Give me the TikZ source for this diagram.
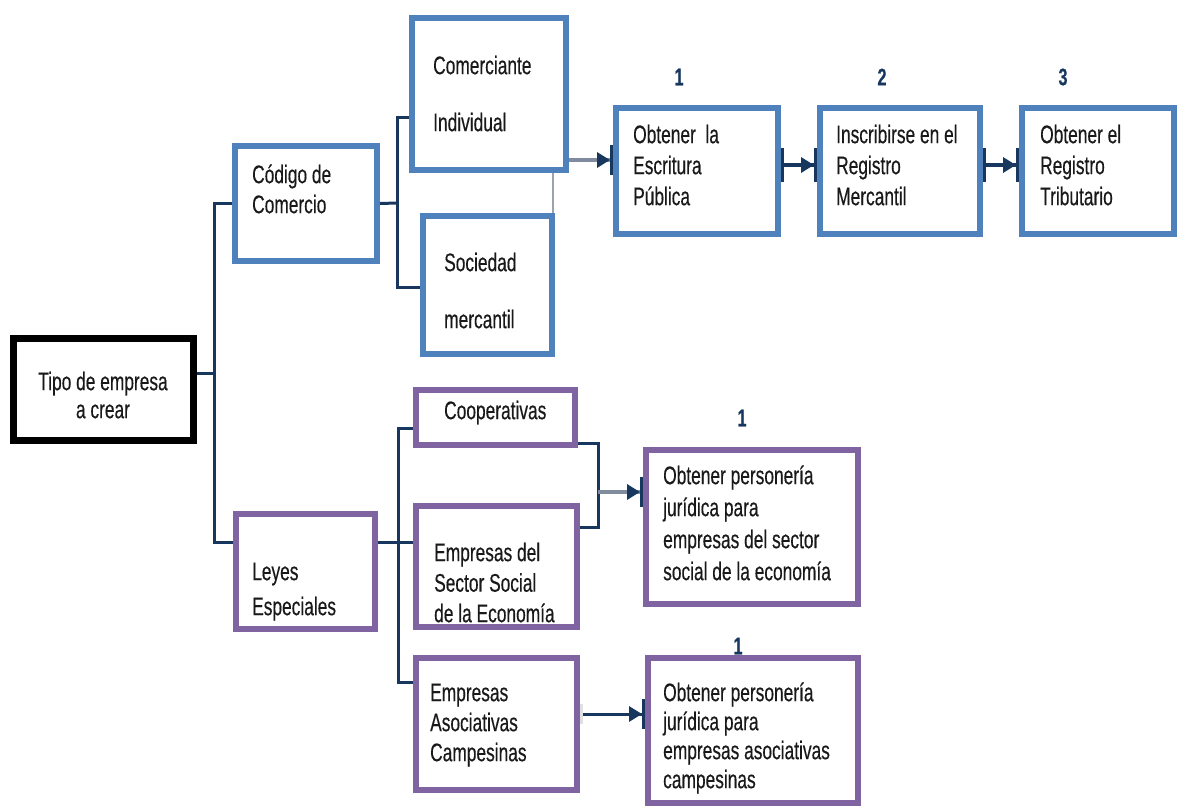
\documentclass[tikz,border=0pt]{standalone}
\usepackage{fontspec}
\setmainfont{Liberation Sans}[FakeStretch=0.68, FakeBold=0.3]
\usetikzlibrary{arrows.meta}

\definecolor{boxblue}{RGB}{79,129,189}
\definecolor{boxpurple}{RGB}{128,100,162}
\definecolor{navy}{RGB}{23,55,94}
\definecolor{shaftgray}{RGB}{128,140,158}
\definecolor{inkgray}{RGB}{25,25,25}

% first-line strut: fixes the top of every text block 26pt above its first baseline
\newcommand\fstrut{\rule{0pt}{26pt}}
\newcommand\tsize[1]{\fontsize{25.5}{#1}\selectfont}

\tikzset{
  box/.style={draw, rectangle, inner sep=0pt, fill=white},
  bluebox/.style={box, draw=boxblue, line width=6pt},
  purplebox/.style={box, draw=boxpurple, line width=6pt},
  blackbox/.style={box, draw=black, line width=7pt},
  txt/.style={anchor=north west, inner sep=0pt, align=left, text=inkgray},
  num/.style={inner sep=0pt, text=navy, font=\fontsize{24}{28}\selectfont\bfseries},
  con/.style={draw=navy, line width=3pt},
  thin/.style={draw=shaftgray!80, line width=2pt},
  tipend/.style={-{Triangle[length=13pt,width=15pt,sep=0pt,color=navy,fill=navy]Bar[width=30pt,line width=3pt,color=navy]}},
  garrow/.style={tipend, draw=shaftgray, line width=4pt},
  barstart/.style={{Bar[width=34pt,line width=3pt,color=navy]}-{Triangle[length=13pt,width=15pt,sep=0pt,color=navy,fill=navy]Bar[width=34pt,line width=3pt,color=navy]}, draw=navy, line width=4pt},
  lightstart/.style={{Bar[width=20pt,line width=3pt,color=black!12]}-{Triangle[length=13pt,width=15pt,sep=0pt,color=navy,fill=navy]Bar[width=30pt,line width=3pt,color=navy]}, draw=navy, line width=3pt},
}

\begin{document}
\begin{tikzpicture}[x=1pt, y=-1pt]
\useasboundingbox (0,0) rectangle (1178,809);

% ---------- boxes ----------
\node[blackbox,  minimum width=180pt, minimum height=102pt] (tipo)   at (103.5,389.5) {};
\node[bluebox,   minimum width=142pt, minimum height=115pt] (codigo) at (306,203.5) {};
\node[bluebox,   minimum width=154pt, minimum height=152pt] (comer)  at (489,94) {};
\node[bluebox,   minimum width=129pt, minimum height=138pt] (socied) at (487.5,285) {};
\node[bluebox,   minimum width=162pt, minimum height=126pt] (esc)    at (697,171) {};
\node[bluebox,   minimum width=160pt, minimum height=126pt] (insc)   at (900,171) {};
\node[bluebox,   minimum width=152pt, minimum height=126pt] (trib)   at (1098,171) {};
\node[purplebox, minimum width=139pt, minimum height=115pt] (leyes)  at (305.5,571.5) {};
\node[purplebox, minimum width=159pt, minimum height=55pt]  (coop)   at (495.5,417.5) {};
\node[purplebox, minimum width=161pt, minimum height=121pt] (sector) at (496.5,566.5) {};
\node[purplebox, minimum width=161pt, minimum height=132pt] (asoc)   at (496.5,724) {};
\node[purplebox, minimum width=212pt, minimum height=154pt] (pers1)  at (752,527) {};
\node[purplebox, minimum width=210pt, minimum height=145pt] (pers2)  at (753,730.5) {};

% ---------- junctions ----------
\coordinate (ja) at (214,373);
\coordinate (jb) at (397,203);
\coordinate (jc) at (598,492);
\coordinate (jd) at (398,542);

% ---------- tree connectors ----------
\draw[con] (tipo.east |- ja) -- (ja);
\draw[con] (codigo.west) -| (ja) |- (leyes.west |- 0,542);
\draw[con] (codigo.east) -- (jb);
\draw[con] (comer.west |- 0,117) -| (jb) |- (socied.west |- 0,287);
\draw[thin] (comer.south -| 553,0) -- (socied.north -| 553,0);
\draw[con] (leyes.east |- jd) -- (sector.west |- jd);
\draw[con] (coop.west |- 0,428) -| (jd) |- (asoc.west |- 0,682);
\draw[con] (coop.east |- 0,443) -| (jc) |- (sector.east |- 0,527);

% ---------- arrows ----------
\draw[garrow] (comer.east |- 0,160) -- (esc.west |- 0,160);
\draw[barstart] (esc.east |- 0,165) -- (insc.west |- 0,165);
\draw[barstart] (insc.east |- 0,165) -- (trib.west |- 0,165);
\draw[garrow] (jc) -- (pers1.west |- jc);
\draw[lightstart] (asoc.east |- 0,714) -- (pers2.west |- 0,714);

% ---------- step numbers ----------
\node[num] (n1) at (679,77) {1};
\node[num] (n2) at (882,77) {2};
\node[num] (n3) at (1063,77) {3};
\node[num] (n4) at (742,418) {1};
\node[num] (n5) at (738,646) {1};

% ---------- texts ----------
\node[txt, anchor=north, align=center, font=\tsize{28}] (ttipo) at (103,364) {\fstrut Tipo de empresa\\a crear};
\node[txt, font=\tsize{30}] (tcod) at (252,157) {\fstrut Código de\\Comercio};
\node[txt, font=\tsize{57}] (tcom) at (433,48) {\fstrut Comerciante\\Individual};
\node[txt, font=\tsize{57}] (tsoc) at (444,245) {\fstrut Sociedad\\mercantil};
\node[txt, font=\tsize{31}] (tesc) at (633,117) {\fstrut Obtener\ \ la\\Escritura\\Pública};
\node[txt, font=\tsize{31}] (tins) at (836,117) {\fstrut Inscribirse en el\\Registro\\Mercantil};
\node[txt, font=\tsize{31}] (ttri) at (1040,117) {\fstrut Obtener el\\Registro\\Tributario};
\node[txt, font=\tsize{35}] (tley) at (252,554) {\fstrut Leyes\\Especiales};
\node[txt, font=\tsize{31}] (tcoo) at (444,393) {\fstrut Cooperativas};
\node[txt, font=\tsize{30.5}] (tsec) at (434,535) {\fstrut Empresas del\\Sector Social\\de la Economía};
\node[txt, font=\tsize{30}] (taso) at (430,675) {\fstrut Empresas\\Asociativas\\Campesinas};
\node[txt, font=\tsize{32}] (tpe1) at (663,458) {\fstrut Obtener personería\\jurídica para\\empresas del sector\\social de la economía};
\node[txt, font=\tsize{29}] (tpe2) at (663,675) {\fstrut Obtener personería\\jurídica para\\empresas asociativas\\campesinas};
\end{tikzpicture}
\end{document}
